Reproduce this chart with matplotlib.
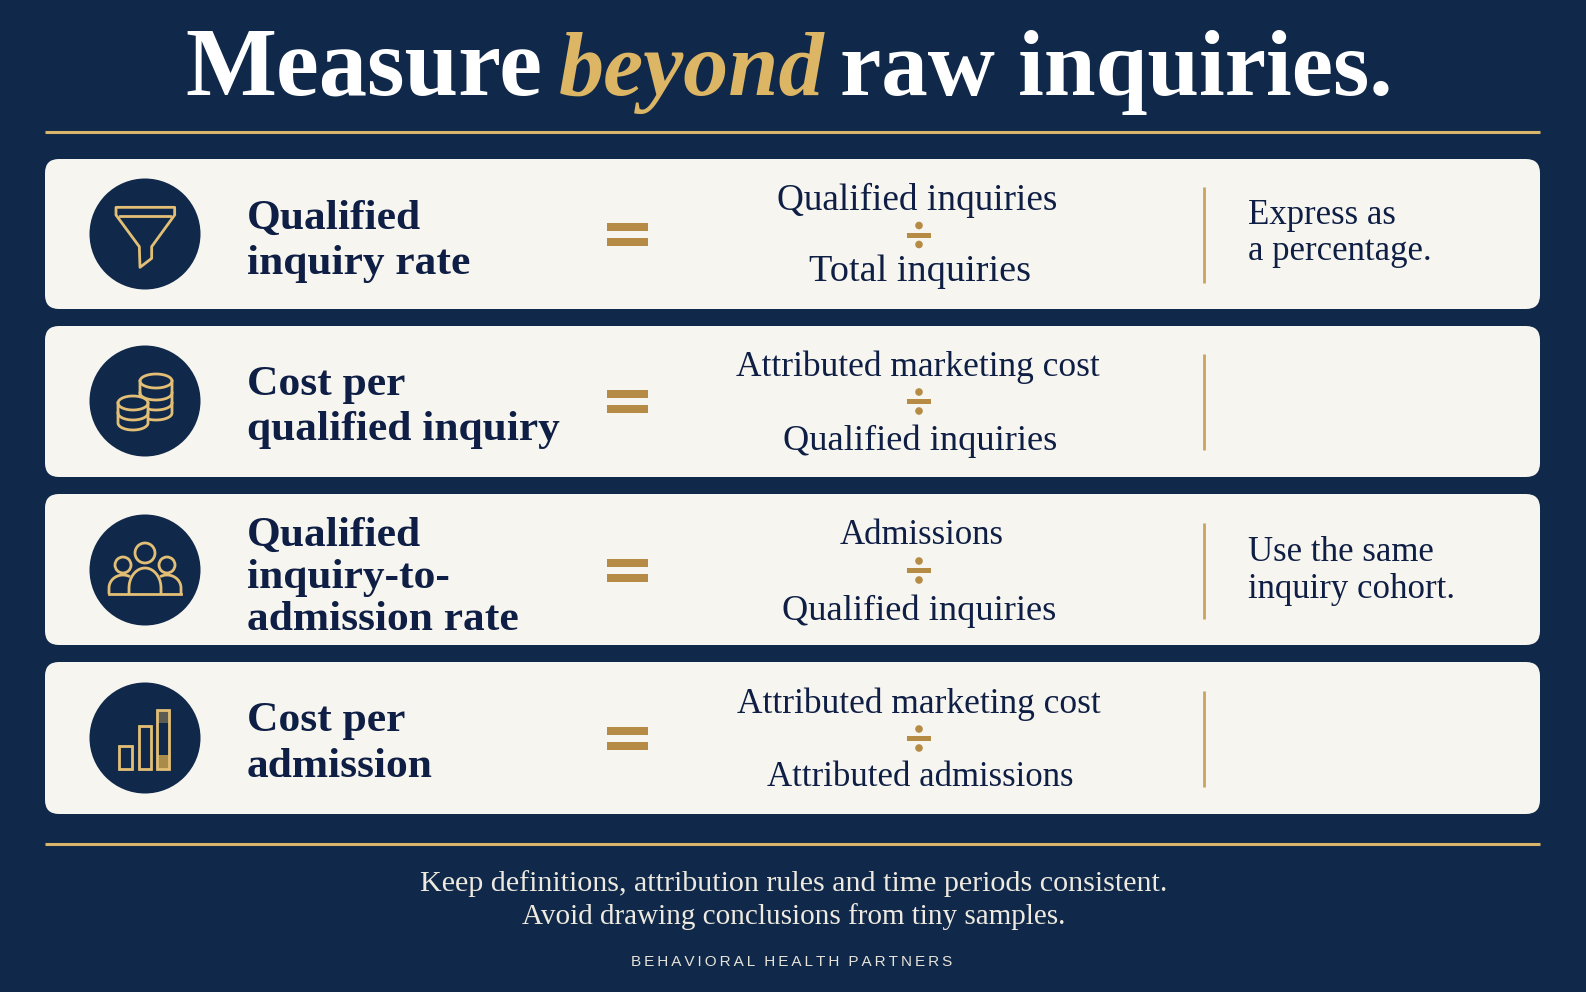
import numpy as np
import matplotlib
matplotlib.use("Agg")
import matplotlib.pyplot as plt
from matplotlib.patches import Circle, FancyBboxPatch, Polygon, Rectangle

# Content
title_parts = ["Measure", "beyond", "raw inquiries."]
metrics = [
    ["Qualified", "inquiry rate"],
    ["Cost per", "qualified inquiry"],
    ["Qualified", "inquiry-to-", "admission rate"],
    ["Cost per", "admission"],
]
numerators = ["Qualified inquiries", "Attributed marketing cost", "Admissions", "Attributed marketing cost"]
denominators = ["Total inquiries", "Qualified inquiries", "Qualified inquiries", "Attributed admissions"]
notes = [["Express as", "a percentage."], [], ["Use the same", "inquiry cohort."], []]
footer_lines = ["Keep definitions, attribution rules and time periods consistent.",
                "Avoid drawing conclusions from tiny samples."]
brand = "BEHAVIORAL HEALTH PARTNERS"

# Layout, in pixels of the 1586x992 picture
W, H = 1586, 992
card_tops = [159, 326, 494, 662]
card_bottoms = [309, 477, 645, 814]
row_mid = [235, 401.5, 570.5, 738.5]
circle_y = [234, 401, 570, 738]
metric_base = [[229, 274], [394.5, 440], [546, 588, 630], [731, 777]]
num_base = [210, 376, 544, 713]
den_base = [281, 450, 620, 786]
num_x = [917, 918, 921.5, 918.5]
den_x = [920, 920.5, 919, 920.5]
num_size = [26.8, 25.5, 25, 25.5]
den_size = [27.5, 26.2, 26.2, 25]
note_base = [[224.5, 260], [], [561, 598], []]

BG = "#10294a"
CARD = "#f7f5ef"
NAVY = "#0e1e44"
CIRCLE = "#10294a"
GOLD = "#e3bf76"
BRONZE = "#b58b45"
SERIF = "Liberation Serif"

fig = plt.figure(figsize=(W / 100, H / 100), dpi=100, facecolor=BG)
ax = fig.add_axes([0, 0, 1, 1])
ax.set_xlim(0, W)
ax.set_ylim(H, 0)
ax.axis("off")


def arc(cx, cy, rx, ry, a0, a1, n=30):
    t = np.radians(np.linspace(a0, a1, n))
    return np.column_stack([cx + rx * np.cos(t), cy + ry * np.sin(t)])


def outline(pts, closed=False, fill="none", z=5):
    ax.add_patch(Polygon(pts, closed=closed, facecolor=fill, edgecolor=GOLD, lw=2.0, joinstyle="round", zorder=z))


def funnel(cx, cy):
    pts = np.array([[228, 172], [404, 172], [404, 195], [335, 290], [335, 325], [300, 352], [298, 290], [228, 195]], float)
    pts = (pts - [315, 252]) / 3 + [cx, cy]
    outline(pts, closed=True)
    ax.plot([cx - 25, cx + 25], [cy - 18.5, cy - 18.5], color=GOLD, lw=2.0, zorder=5)


def stack(cx, top, rx, ry, bands, z):
    bottom = bands[-1]
    body = np.vstack([arc(cx, top, rx, ry, 180, 360), arc(cx, bottom, rx, ry, 0, 180)])
    outline(body, closed=True, fill=CIRCLE, z=z)
    for y in [top] + bands[:-1]:
        ax.plot(*arc(cx, y, rx, ry, 0, 180).T, color=GOLD, lw=2.0, zorder=z)


def coins(cx, cy):
    stack(cx + 11, cy - 20, 16, 7, [cy - 8, cy + 2, cy + 12], 5)
    stack(cx - 12, cy + 2, 15, 7, [cy + 12, cy + 22], 6)


def people(cx, cy):
    ax.add_patch(Circle((cx, cy - 17), 10, fc="none", ec=GOLD, lw=2.0, zorder=6))
    ax.add_patch(Circle((cx - 22, cy - 5), 8, fc="none", ec=GOLD, lw=2.0, zorder=5))
    ax.add_patch(Circle((cx + 22, cy - 5), 8, fc="none", ec=GOLD, lw=2.0, zorder=5))
    base = cy + 24
    ax.plot([cx - 36, cx + 36], [base, base], color=GOLD, lw=2.0, zorder=6)
    outline(np.vstack([[cx - 16, base], arc(cx, base - 6, 16, 20, 180, 360), [cx + 16, base]]), fill=CIRCLE, z=5.5)
    outline(np.vstack([[cx - 36, base], arc(cx - 22, base - 6, 14, 13, 180, 300)]), z=5)
    outline(np.vstack([[cx + 36, base], arc(cx + 22, base - 6, 14, 13, 360, 240)]), z=5)


def bars(cx, cy):
    for x0, x1, top in [(-26, -13, 8), (-6.5, 5.5, -12), (12, 24, -28)]:
        ax.add_patch(Rectangle((cx + x0, cy + top), x1 - x0, 31 - top, fc="none", ec=GOLD, lw=2.0, zorder=6))
    ax.add_patch(Rectangle((cx + 12, cy + 17), 12, 14, fc="#a98c4a", ec="none", zorder=5))
    ax.add_patch(Rectangle((cx + 12, cy - 28), 12, 13, fc="#5c5c54", ec="none", zorder=5))


icons = [funnel, coins, people, bars]

# Title: three runs placed one after another
title_x = [185, 559, 840]
title_size = [69.5, 65, 67]
title_kw = [dict(color="white", style="normal"), dict(color="#dcb565", style="italic"), dict(color="white", style="normal")]
for s, x, fs, kw in zip(title_parts, title_x, title_size, title_kw):
    ax.text(x, 95, s, family=SERIF, weight="bold", fontsize=fs, va="baseline", ha="left", **kw)

for y in [131.5, 843.5]:
    ax.plot([45, 1540], [y, y], color="#d9b569", lw=2.2, solid_capstyle="butt")

for i in range(4):
    top, bot, mid = card_tops[i], card_bottoms[i], row_mid[i]
    ax.add_patch(FancyBboxPatch((45 + 14, top + 14), 1495 - 28, bot - top - 28,
                                boxstyle="round,pad=14,rounding_size=14", fc=CARD, ec="none", zorder=1))
    ax.add_patch(Circle((145, circle_y[i]), 55.5, fc=CIRCLE, ec="none", zorder=2))
    icons[i](145, circle_y[i])

    for line, y in zip(metrics[i], metric_base[i]):
        ax.text(247, y, line, family=SERIF, weight="bold", color=NAVY, fontsize=31.3, va="baseline", ha="left", zorder=3)

    # equals sign
    ax.add_patch(Rectangle((607, mid - 12), 41, 8, fc=BRONZE, ec="none", zorder=3))
    ax.add_patch(Rectangle((607, mid + 3), 41, 8, fc=BRONZE, ec="none", zorder=3))

    ax.text(num_x[i], num_base[i], numerators[i], family=SERIF, color=NAVY, fontsize=num_size[i], va="baseline", ha="center", zorder=3)
    ax.text(den_x[i], den_base[i], denominators[i], family=SERIF, color=NAVY, fontsize=den_size[i], va="baseline", ha="center", zorder=3)

    # division sign
    ax.add_patch(Rectangle((907, mid - 2.5), 24, 5, fc=BRONZE, ec="none", zorder=3))
    ax.add_patch(Circle((919, mid - 9.5), 3.8, fc=BRONZE, ec="none", zorder=3))
    ax.add_patch(Circle((919, mid + 9.5), 3.8, fc=BRONZE, ec="none", zorder=3))

    ax.plot([1204, 1204], [mid - 48, mid + 48], color="#c9a45f", lw=2, zorder=3, solid_capstyle="butt")

    for line, y in zip(notes[i], note_base[i]):
        ax.text(1248, y, line, family=SERIF, color=NAVY, fontsize=25, va="baseline", ha="left", zorder=3)

for line, y, fs in zip(footer_lines, [891, 924], [21.6, 21]):
    ax.text(794, y, line, family=SERIF, color="#eeeae0", fontsize=fs, va="baseline", ha="center")

ax.text(792, 966, "\u2009".join(brand).replace("\u2009 \u2009", "\u2009\u2009\u2009"),
        family=["Liberation Sans", "DejaVu Sans"], color="#e8e4da", fontsize=11, va="baseline", ha="center")

fig.savefig("out.png", dpi=100, facecolor=BG)
